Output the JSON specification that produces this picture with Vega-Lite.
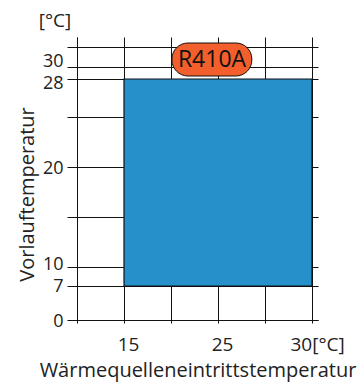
{
  "$schema": "https://vega.github.io/schema/vega-lite/v6.json",
  "width": 241,
  "height": 283,
  "autosize": "none",
  "padding": {"left": 77, "top": 37, "right": 43, "bottom": 63},
  "background": "white",
  "config": {
    "view": {"stroke": null},
    "font": "Open Sans",
    "axis": {
      "domainColor": "#111",
      "tickColor": "#111",
      "gridColor": "#111",
      "gridOpacity": 1,
      "gridWidth": 1,
      "labelColor": "#222",
      "titleColor": "#222",
      "labelFont": "Open Sans",
      "titleFont": "Open Sans",
      "labelFontWeight": "normal",
      "titleFontWeight": "normal",
      "labelOverlap": false,
      "labelFlush": false
    }
  },
  "datasets": {
    "einsatzbereich": [
      {"kaeltemittel": "R410A", "quelle_min": 15, "quelle_max": 30, "vorlauf_min": 7, "vorlauf_max": 28}
    ],
    "kennzeichnung": [
      {"text": "R410A", "x": 24.36, "y": 30.75, "x_min": 20.1, "x_max": 26.8, "y_min": 28.5, "y_max": 32.4}
    ],
    "einheit": [
      {"text": "[°C]", "x": 7.66, "y": 34.6}
    ]
  },
  "layer": [
    {
      "data": {"name": "einsatzbereich"},
      "mark": {"type": "rect", "fill": "#2590c9", "stroke": "#111", "strokeWidth": 1.2},
      "encoding": {
        "x": {
          "field": "quelle_min",
          "type": "quantitative",
          "title": "Wärmequelleneintrittstemperatur",
          "scale": {"type": "linear", "domain": [10, 25, 30, 30.32], "range": [0, 141, 235, 241], "nice": false, "zero": false},
          "axis": {
            "titleFontSize": 20,
            "titleBaseline": "alphabetic",
            "titleY": 56,
            "values": [10, 15, 20, 25, 27.5, 30],
            "tickCount": 20,
            "grid": true,
            "tickSize": 3,
            "labelFontSize": 19,
            "labelPadding": 12,
            "labelExpr": "datum.value == 30 ? '30[°C]' : (datum.value == 15 || datum.value == 25) ? datum.label : ''",
            "labelAlign": {"condition": {"test": "datum.value == 30", "value": "left"}, "value": "center"},
            "labelOffset": {"condition": {"test": "datum.value == 30", "value": -22}, "value": 4}
          }
        },
        "x2": {"field": "quelle_max"},
        "y": {
          "field": "vorlauf_min",
          "type": "quantitative",
          "title": "Vorlauftemperatur",
          "scale": {"type": "linear", "domain": [0, 7, 10, 15, 20, 25, 28, 30, 32, 33], "range": [283, 249, 230, 180, 130, 80, 42, 30, 10, 0], "nice": false, "zero": false},
          "axis": {
            "titleFontSize": 20,
            "titleAngle": -90,
            "titleBaseline": "alphabetic",
            "titleX": -44,
            "titleY": 157,
            "values": [0, 7, 10, 15, 20, 25, 28, 30, 32],
            "tickCount": 20,
            "grid": true,
            "tickSize": 10,
            "labelFontSize": 18,
            "labelPadding": 4,
            "labelExpr": "(datum.value == 15 || datum.value == 25 || datum.value == 32) ? '' : datum.label",
            "labelOffset": {
              "condition": [
                {"test": "datum.value == 30", "value": -6},
                {"test": "datum.value == 28", "value": 4},
                {"test": "datum.value == 10", "value": -3},
                {"test": "datum.value == 7", "value": 0}
              ],
              "value": 1
            }
          }
        },
        "y2": {"field": "vorlauf_max"}
      }
    },
    {
      "data": {"name": "kennzeichnung"},
      "mark": {"type": "rect", "fill": "#f25f2c", "stroke": "#111", "strokeWidth": 1, "cornerRadius": 16},
      "encoding": {
        "x": {"field": "x_min", "type": "quantitative", "title": "Wärmequelleneintrittstemperatur"},
        "x2": {"field": "x_max"},
        "y": {"field": "y_min", "type": "quantitative", "title": "Vorlauftemperatur"},
        "y2": {"field": "y_max"}
      }
    },
    {
      "data": {"name": "kennzeichnung"},
      "mark": {"type": "text", "fontSize": 23, "color": "#111", "align": "center", "baseline": "middle", "font": "Open Sans"},
      "encoding": {
        "x": {"field": "x", "type": "quantitative", "title": "Wärmequelleneintrittstemperatur"},
        "y": {"field": "y", "type": "quantitative", "title": "Vorlauftemperatur"},
        "text": {"field": "text"}
      }
    },
    {
      "data": {"name": "einheit"},
      "mark": {"type": "text", "fontSize": 19, "color": "#222", "align": "center", "baseline": "middle", "font": "Open Sans"},
      "encoding": {
        "x": {"field": "x", "type": "quantitative", "title": "Wärmequelleneintrittstemperatur"},
        "y": {"field": "y", "type": "quantitative", "title": "Vorlauftemperatur"},
        "text": {"field": "text"}
      }
    }
  ]
}
